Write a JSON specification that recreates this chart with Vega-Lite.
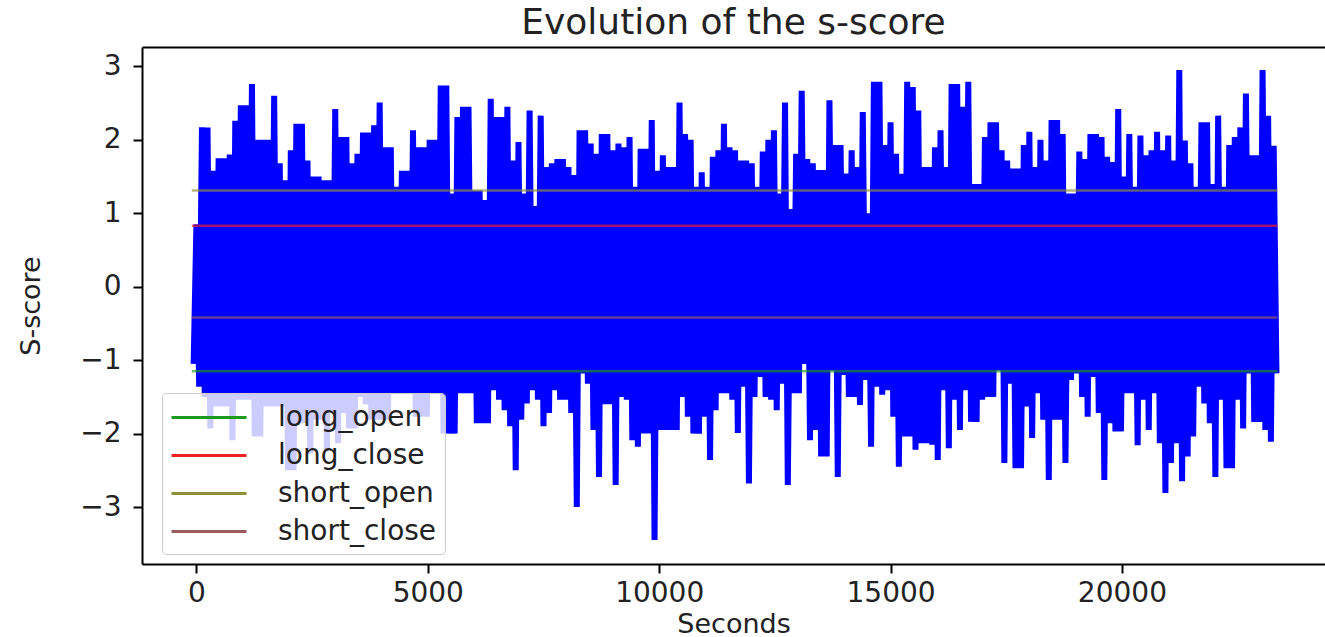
{
  "$schema": "https://vega.github.io/schema/vega-lite/v6.json",
  "width": 1183,
  "height": 517,
  "autosize": {"type": "none"},
  "padding": {"left": 142, "top": 47, "right": 0, "bottom": 73},
  "background": "white",
  "config": {
    "font": "DejaVu Sans",
    "view": {"stroke": null},
    "axis": {"grid": false, "domainColor": "#000000", "domainWidth": 2, "tickColor": "#000000", "tickWidth": 2, "tickSize": 9, "labelFont": "DejaVu Sans", "labelFontSize": 28, "labelColor": "#222222", "titleFont": "DejaVu Sans", "titleFontWeight": "normal", "titleColor": "#222222", "titleFontSize": 27}
  },
  "title": {"text": "Evolution of the s-score", "fontSize": 36, "fontWeight": "normal", "font": "DejaVu Sans", "color": "#222222", "anchor": "middle", "offset": 5},
  "datasets": {
    "s": [
      {"t":-60,"s":-1.05},
      {"t":0,"s":0.85},{"t":60,"s":-1.36},{"t":120,"s":2.17},{"t":180,"s":-1.5},{"t":240,"s":2.17},{"t":300,"s":-1.93},{"t":360,"s":1.58},{"t":420,"s":-1.63},{"t":480,"s":1.75},{"t":540,"s":-1.63},
      {"t":600,"s":1.75},{"t":660,"s":-1.63},{"t":720,"s":1.8},{"t":780,"s":-2.09},{"t":840,"s":2.26},{"t":900,"s":-1.54},{"t":960,"s":2.47},{"t":1020,"s":-1.54},{"t":1080,"s":2.47},{"t":1140,"s":-1.54},
      {"t":1200,"s":2.76},{"t":1260,"s":-2.04},{"t":1320,"s":2.0},{"t":1380,"s":-2.04},{"t":1440,"s":2.0},{"t":1500,"s":-1.63},{"t":1560,"s":2.0},{"t":1620,"s":-1.63},{"t":1680,"s":2.6},{"t":1740,"s":-1.63},
      {"t":1800,"s":1.68},{"t":1860,"s":-1.63},{"t":1920,"s":1.45},{"t":1980,"s":-2.5},{"t":2040,"s":1.86},{"t":2100,"s":-2.5},{"t":2160,"s":2.22},{"t":2220,"s":-1.86},{"t":2280,"s":2.22},{"t":2340,"s":-1.86},
      {"t":2400,"s":1.72},{"t":2460,"s":-2.27},{"t":2520,"s":1.5},{"t":2580,"s":-1.81},{"t":2640,"s":1.5},{"t":2700,"s":-1.81},{"t":2760,"s":1.45},{"t":2820,"s":-2.22},{"t":2880,"s":1.45},{"t":2940,"s":-1.7},
      {"t":3000,"s":2.42},{"t":3060,"s":-2.13},{"t":3120,"s":2.04},{"t":3180,"s":-1.72},{"t":3240,"s":2.04},{"t":3300,"s":-1.93},{"t":3360,"s":1.68},{"t":3420,"s":-1.93},{"t":3480,"s":1.81},{"t":3540,"s":-1.5},
      {"t":3600,"s":2.1},{"t":3660,"s":-1.6},{"t":3720,"s":2.1},{"t":3780,"s":-1.81},{"t":3840,"s":2.2},{"t":3900,"s":-1.81},{"t":3960,"s":2.51},{"t":4020,"s":-1.81},{"t":4080,"s":1.9},{"t":4140,"s":-1.81},
      {"t":4200,"s":1.9},{"t":4260,"s":-1.45},{"t":4320,"s":1.36},{"t":4380,"s":-1.45},{"t":4440,"s":1.58},{"t":4500,"s":-1.45},{"t":4560,"s":1.58},{"t":4620,"s":-1.45},{"t":4680,"s":2.13},{"t":4740,"s":-1.77},
      {"t":4800,"s":1.9},{"t":4860,"s":-1.77},{"t":4920,"s":1.9},{"t":4980,"s":-1.77},{"t":5040,"s":2.0},{"t":5100,"s":-1.45},{"t":5160,"s":2.0},{"t":5220,"s":-1.45},{"t":5280,"s":2.74},{"t":5340,"s":-2.0},
      {"t":5400,"s":2.74},{"t":5460,"s":-2.0},{"t":5520,"s":1.27},{"t":5580,"s":-2.0},{"t":5640,"s":2.31},{"t":5700,"s":-1.45},{"t":5760,"s":2.45},{"t":5820,"s":-1.45},{"t":5880,"s":2.45},{"t":5940,"s":-1.45},
      {"t":6000,"s":1.31},{"t":6060,"s":-1.86},{"t":6120,"s":1.31},{"t":6180,"s":-1.86},{"t":6240,"s":1.18},{"t":6300,"s":-1.86},{"t":6360,"s":2.56},{"t":6420,"s":-1.41},{"t":6480,"s":2.31},{"t":6540,"s":-1.54},
      {"t":6600,"s":2.31},{"t":6660,"s":-1.68},{"t":6720,"s":2.45},{"t":6780,"s":-1.9},{"t":6840,"s":1.72},{"t":6900,"s":-2.5},{"t":6960,"s":1.97},{"t":7020,"s":-1.81},{"t":7080,"s":1.27},{"t":7140,"s":-1.59},
      {"t":7200,"s":2.4},{"t":7260,"s":-1.41},{"t":7320,"s":1.1},{"t":7380,"s":-1.54},{"t":7440,"s":2.33},{"t":7500,"s":-1.9},{"t":7560,"s":1.63},{"t":7620,"s":-1.72},{"t":7680,"s":1.68},{"t":7740,"s":-1.41},
      {"t":7800,"s":1.74},{"t":7860,"s":-1.54},{"t":7920,"s":1.74},{"t":7980,"s":-1.54},{"t":8040,"s":1.63},{"t":8100,"s":-1.72},{"t":8160,"s":1.52},{"t":8220,"s":-3.0},{"t":8280,"s":2.13},{"t":8340,"s":-1.18},
      {"t":8400,"s":2.13},{"t":8460,"s":-1.32},{"t":8520,"s":1.95},{"t":8580,"s":-1.95},{"t":8640,"s":1.81},{"t":8700,"s":-2.59},{"t":8760,"s":2.08},{"t":8820,"s":-1.6},{"t":8880,"s":2.08},{"t":8940,"s":-1.6},
      {"t":9000,"s":1.86},{"t":9060,"s":-2.7},{"t":9120,"s":1.95},{"t":9180,"s":-1.5},{"t":9240,"s":1.9},{"t":9300,"s":-1.54},{"t":9360,"s":2.04},{"t":9420,"s":-2.09},{"t":9480,"s":1.36},{"t":9540,"s":-2.18},
      {"t":9600,"s":1.88},{"t":9660,"s":-2.0},{"t":9720,"s":1.88},{"t":9780,"s":-2.0},{"t":9840,"s":2.27},{"t":9900,"s":-3.45},{"t":9960,"s":1.58},{"t":10020,"s":-1.95},{"t":10080,"s":1.79},{"t":10140,"s":-1.95},
      {"t":10200,"s":1.63},{"t":10260,"s":-1.95},{"t":10320,"s":1.63},{"t":10380,"s":-1.95},{"t":10440,"s":2.51},{"t":10500,"s":-1.5},{"t":10560,"s":2.08},{"t":10620,"s":-1.77},{"t":10680,"s":2.0},{"t":10740,"s":-2.0},
      {"t":10800,"s":1.36},{"t":10860,"s":-2.0},{"t":10920,"s":1.56},{"t":10980,"s":-1.77},{"t":11040,"s":1.36},{"t":11100,"s":-2.36},{"t":11160,"s":1.77},{"t":11220,"s":-1.68},{"t":11280,"s":1.86},{"t":11340,"s":-1.45},
      {"t":11400,"s":2.22},{"t":11460,"s":-1.45},{"t":11520,"s":1.9},{"t":11580,"s":-1.54},{"t":11640,"s":1.86},{"t":11700,"s":-1.99},{"t":11760,"s":1.72},{"t":11820,"s":-1.36},{"t":11880,"s":1.72},{"t":11940,"s":-2.68},
      {"t":12000,"s":1.68},{"t":12060,"s":-1.5},{"t":12120,"s":1.36},{"t":12180,"s":-1.23},{"t":12240,"s":1.84},{"t":12300,"s":-1.5},{"t":12360,"s":2.0},{"t":12420,"s":-1.54},{"t":12480,"s":2.13},{"t":12540,"s":-1.68},
      {"t":12600,"s":1.27},{"t":12660,"s":-1.32},{"t":12720,"s":2.51},{"t":12780,"s":-2.7},{"t":12840,"s":1.06},{"t":12900,"s":-1.45},{"t":12960,"s":1.81},{"t":13020,"s":-1.45},{"t":13080,"s":2.67},{"t":13140,"s":-1.05},
      {"t":13200,"s":1.74},{"t":13260,"s":-2.09},{"t":13320,"s":1.68},{"t":13380,"s":-1.95},{"t":13440,"s":1.59},{"t":13500,"s":-2.31},{"t":13560,"s":1.59},{"t":13620,"s":-2.31},{"t":13680,"s":2.54},{"t":13740,"s":-1.14},
      {"t":13800,"s":1.93},{"t":13860,"s":-2.59},{"t":13920,"s":1.93},{"t":13980,"s":-1.2},{"t":14040,"s":1.54},{"t":14100,"s":-1.5},{"t":14160,"s":1.86},{"t":14220,"s":-1.5},{"t":14280,"s":1.63},{"t":14340,"s":-1.61},
      {"t":14400,"s":2.38},{"t":14460,"s":-1.27},{"t":14520,"s":1.0},{"t":14580,"s":-2.18},{"t":14640,"s":2.79},{"t":14700,"s":-1.36},{"t":14760,"s":2.79},{"t":14820,"s":-1.47},{"t":14880,"s":1.93},{"t":14940,"s":-1.41},
      {"t":15000,"s":2.24},{"t":15060,"s":-1.77},{"t":15120,"s":1.81},{"t":15180,"s":-2.45},{"t":15240,"s":1.54},{"t":15300,"s":-2.04},{"t":15360,"s":2.79},{"t":15420,"s":-2.04},{"t":15480,"s":2.72},{"t":15540,"s":-2.22},
      {"t":15600,"s":2.4},{"t":15660,"s":-2.13},{"t":15720,"s":1.63},{"t":15780,"s":-2.13},{"t":15840,"s":1.63},{"t":15900,"s":-2.15},{"t":15960,"s":1.9},{"t":16020,"s":-2.36},{"t":16080,"s":2.13},{"t":16140,"s":-1.41},
      {"t":16200,"s":1.63},{"t":16260,"s":-2.2},{"t":16320,"s":2.76},{"t":16380,"s":-1.54},{"t":16440,"s":2.76},{"t":16500,"s":-1.95},{"t":16560,"s":2.45},{"t":16620,"s":-1.41},{"t":16680,"s":2.79},{"t":16740,"s":-1.84},
      {"t":16800,"s":1.4},{"t":16860,"s":-1.84},{"t":16920,"s":1.4},{"t":16980,"s":-1.54},{"t":17040,"s":2.04},{"t":17100,"s":-1.5},{"t":17160,"s":2.24},{"t":17220,"s":-1.5},{"t":17280,"s":2.24},{"t":17340,"s":-1.14},
      {"t":17400,"s":1.86},{"t":17460,"s":-2.4},{"t":17520,"s":1.72},{"t":17580,"s":-1.32},{"t":17640,"s":1.61},{"t":17700,"s":-2.47},{"t":17760,"s":1.61},{"t":17820,"s":-2.47},{"t":17880,"s":1.93},{"t":17940,"s":-1.63},
      {"t":18000,"s":2.11},{"t":18060,"s":-2.06},{"t":18120,"s":1.63},{"t":18180,"s":-1.45},{"t":18240,"s":2.0},{"t":18300,"s":-1.81},{"t":18360,"s":1.72},{"t":18420,"s":-2.63},{"t":18480,"s":2.27},{"t":18540,"s":-1.81},
      {"t":18600,"s":2.27},{"t":18660,"s":-1.81},{"t":18720,"s":2.08},{"t":18780,"s":-2.4},{"t":18840,"s":1.27},{"t":18900,"s":-1.27},{"t":18960,"s":1.27},{"t":19020,"s":-1.18},{"t":19080,"s":1.84},{"t":19140,"s":-1.5},
      {"t":19200,"s":1.74},{"t":19260,"s":-1.77},{"t":19320,"s":2.08},{"t":19380,"s":-1.23},{"t":19440,"s":2.08},{"t":19500,"s":-1.72},{"t":19560,"s":2.04},{"t":19620,"s":-2.63},{"t":19680,"s":1.77},{"t":19740,"s":-1.86},
      {"t":19800,"s":1.7},{"t":19860,"s":-1.97},{"t":19920,"s":2.42},{"t":19980,"s":-1.97},{"t":20040,"s":1.5},{"t":20100,"s":-1.45},{"t":20160,"s":2.08},{"t":20220,"s":-1.45},{"t":20280,"s":1.36},{"t":20340,"s":-2.16},
      {"t":20400,"s":2.06},{"t":20460,"s":-1.54},{"t":20520,"s":1.79},{"t":20580,"s":-1.95},{"t":20640,"s":1.86},{"t":20700,"s":-1.45},{"t":20760,"s":2.11},{"t":20820,"s":-2.13},{"t":20880,"s":1.86},{"t":20940,"s":-2.81},
      {"t":21000,"s":2.06},{"t":21060,"s":-2.4},{"t":21120,"s":1.72},{"t":21180,"s":-2.13},{"t":21240,"s":2.95},{"t":21300,"s":-2.65},{"t":21360,"s":1.99},{"t":21420,"s":-2.31},{"t":21480,"s":1.68},{"t":21540,"s":-2.04},
      {"t":21600,"s":1.36},{"t":21660,"s":-1.36},{"t":21720,"s":2.24},{"t":21780,"s":-1.59},{"t":21840,"s":2.24},{"t":21900,"s":-1.86},{"t":21960,"s":1.4},{"t":22020,"s":-2.59},{"t":22080,"s":2.33},{"t":22140,"s":-1.54},
      {"t":22200,"s":1.36},{"t":22260,"s":-2.47},{"t":22320,"s":1.93},{"t":22380,"s":-2.47},{"t":22440,"s":2.04},{"t":22500,"s":-1.54},{"t":22560,"s":2.17},{"t":22620,"s":-1.93},{"t":22680,"s":2.63},{"t":22740,"s":-1.18},
      {"t":22800,"s":1.79},{"t":22860,"s":-1.84},{"t":22920,"s":1.79},{"t":22980,"s":-1.84},{"t":23040,"s":2.95},{"t":23100,"s":-1.95},{"t":23160,"s":2.33},{"t":23220,"s":-2.11},{"t":23280,"s":1.92},{"t":23340,"s":-1.18}
    ],
    "thr": [
      {"name": "long_open", "v": -1.15, "x0": -100, "x1": 23360},
      {"name": "long_close", "v": 0.83, "x0": -100, "x1": 23360},
      {"name": "short_open", "v": 1.31, "x0": -100, "x1": 23360},
      {"name": "short_close", "v": -0.42, "x0": -100, "x1": 23360}
    ]
  },
  "layer": [
    {
      "data": {"name": "s"},
      "mark": {"type": "line", "color": "#0000ff", "strokeWidth": 6, "strokeJoin": "bevel", "clip": true},
      "encoding": {
        "x": {"field": "t", "type": "quantitative", "scale": {"domain": [-1176, 24389], "nice": false, "zero": false},
              "axis": {"values": [0, 5000, 10000, 15000, 20000], "format": "d", "title": "Seconds", "labelPadding": 6, "titlePadding": 4}},
        "y": {"field": "s", "type": "quantitative", "title": "S-score", "scale": {"domain": [-3.776, 3.265], "nice": false, "zero": false},
              "axis": {"values": [-3, -2, -1, 0, 1, 2, 3], "format": "d", "labelPadding": 12, "titlePadding": 34}}
      }
    },
    {
      "data": {"name": "thr"},
      "mark": {"type": "rule", "strokeWidth": 2.5, "opacity": 0.65},
      "encoding": {
        "x": {"field": "x0", "type": "quantitative", "axis": {"orient": "top", "labels": false, "ticks": false, "title": null, "domain": true}},
        "x2": {"field": "x1"},
        "y": {"field": "v", "type": "quantitative", "title": "S-score"},
        "color": {"field": "name", "type": "nominal",
                  "scale": {"domain": ["long_open", "long_close", "short_open", "short_close"], "range": ["#1a9a1a", "#ee2222", "#8f8f3a", "#9a5c5c"]},
                  "legend": {"orient": "none", "legendX": 20, "legendY": 346, "title": null, "symbolType": "M-1,0H4", "symbolSize": 900, "symbolStrokeWidth": 3, "symbolOpacity": 1, "labelFontSize": 28, "labelFont": "DejaVu Sans", "labelColor": "#222222", "labelOffset": 75, "rowPadding": 7, "padding": 8, "fillColor": "rgba(255,255,255,0.8)", "strokeColor": "#cccccc", "cornerRadius": 4}}
      }
    }
  ],
  "resolve": {"axis": {"x": "independent"}}
}
